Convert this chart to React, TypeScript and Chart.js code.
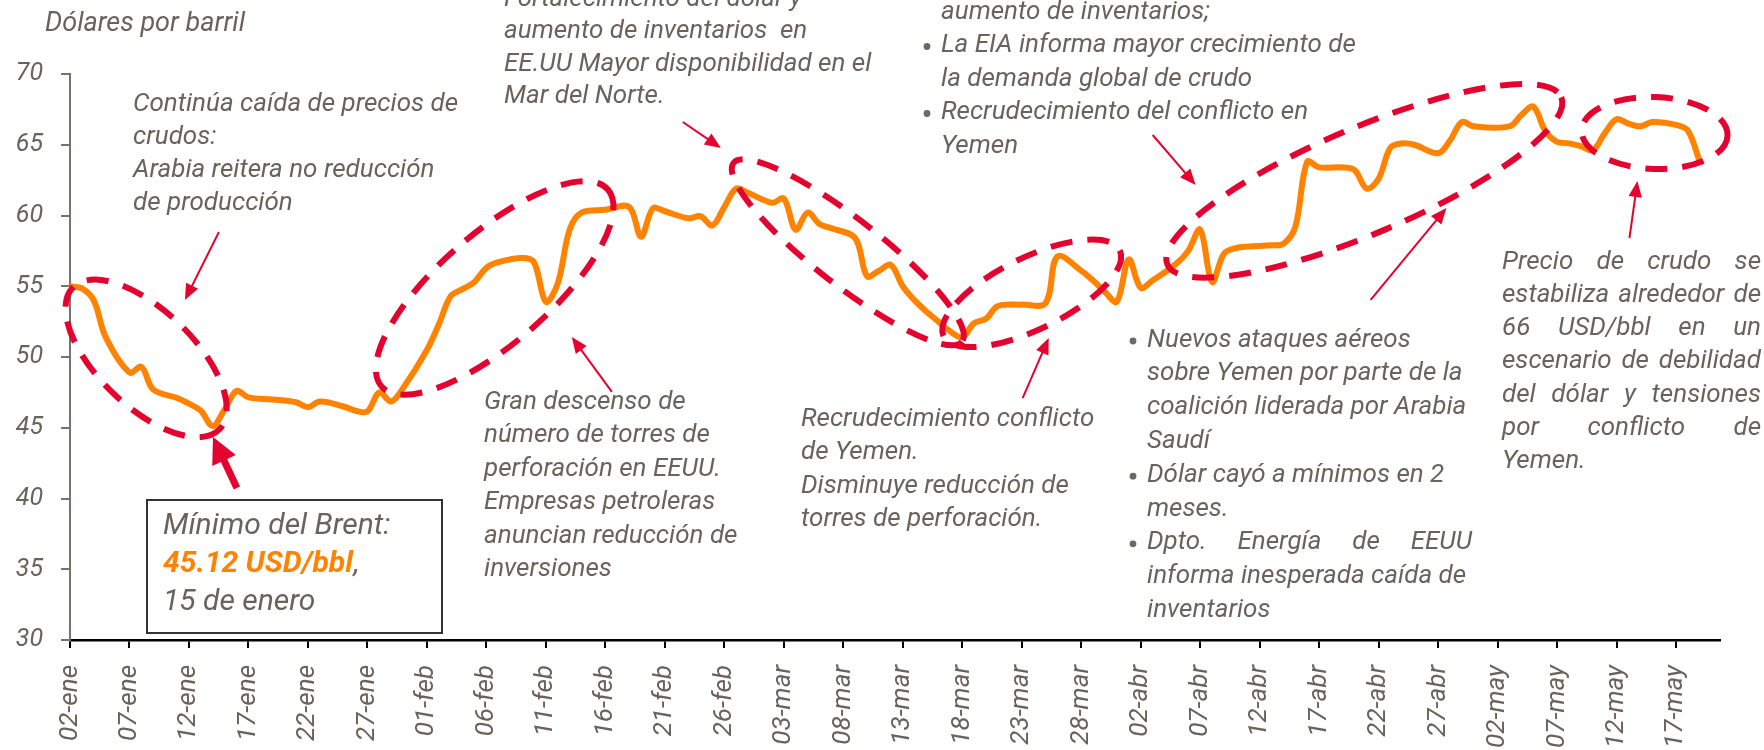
import React, { useEffect, useRef } from "react";
import { Chart, registerables } from "chart.js";

Chart.register(...registerables);

// ---- data (day offset from 02-ene-2015, Brent USD/bbl) ----
const days = [
  0, 1, 2, 3, 5, 6, 7, 9, 10, 11, 12, 13, 14, 15, 17, 19, 20, 21, 23, 24, 25, 26, 27, 28,
  30, 31, 32, 33, 34, 35, 36, 38, 39, 40, 41, 42, 43, 45, 47, 48, 49, 50, 52, 53, 54, 55, 56, 57,
  59, 60, 61, 62, 63, 64, 66, 67, 68, 69, 70, 71, 72, 73, 74, 75, 76, 77, 78, 80, 82, 83, 85, 86,
  87, 88, 89, 90, 91, 93, 94, 95, 96, 97, 98, 99, 101, 102, 103, 104, 105, 107, 108, 109, 110,
  111, 112, 113, 115, 116, 117, 118, 121, 122, 123, 124, 125, 126, 127, 128, 129, 130, 131, 132,
  133, 135, 136, 137,
];
const prices = [
  55.0, 54.85, 54.0, 51.4, 48.9, 49.3, 47.7, 47.1, 46.7, 46.2, 45.12, 46.3, 47.6, 47.15, 47.0, 46.8, 46.45, 46.85, 46.5, 46.2, 46.15, 47.5, 46.85, 47.8,
  50.5, 52.3, 54.3, 54.8, 55.3, 56.3, 56.7, 57.0, 56.7, 53.9, 55.2, 59.0, 60.2, 60.4, 60.6, 58.5, 60.5, 60.3, 59.8, 59.95, 59.3, 60.6, 61.9, 61.6,
  60.9, 61.2, 59.0, 60.2, 59.4, 59.1, 58.4, 55.7, 56.1, 56.5, 55.0, 54.0, 53.2, 52.5, 51.8, 51.4, 52.4, 52.7, 53.6, 53.7, 53.8, 57.1, 56.1, 55.4,
  54.6, 53.9, 56.9, 54.9, 55.4, 56.6, 57.5, 59.0, 55.3, 57.3, 57.7, 57.8, 57.9, 58.0, 59.2, 63.8, 63.4, 63.4, 63.2, 61.9, 62.6,
  64.8, 65.1, 65.0, 64.4, 65.3, 66.6, 66.3, 66.3, 67.1, 67.7, 66.0, 65.2, 65.1, 64.9, 64.6, 65.8, 66.8, 66.5, 66.3,
  66.6, 66.4, 66.0, 63.8,
];
const tickDays = [0, 5, 10, 15, 20, 25, 30, 35, 40, 45, 50, 55, 60, 65, 70, 75, 80, 85, 90, 95, 100, 105, 110, 115, 120, 125, 130, 135];
const tickLabels = [
  "02-ene", "07-ene", "12-ene", "17-ene", "22-ene", "27-ene", "01-feb", "06-feb", "11-feb", "16-feb",
  "21-feb", "26-feb", "03-mar", "08-mar", "13-mar", "18-mar", "23-mar", "28-mar", "02-abr", "07-abr",
  "12-abr", "17-abr", "22-abr", "27-abr", "02-may", "07-may", "12-may", "17-may",
];
const yTicks = [30, 35, 40, 45, 50, 55, 60, 65, 70];
const yLabel = "Dólares por barril";

// ---- annotations (ellipses / arrows anchored in data units) ----
const ellipses = [
  { day: 6.4, value: 49.9, rx: 102, ry: 48, rot: 44 },
  { day: 35.7, value: 54.88, rx: 150, ry: 55, rot: -41 },
  { day: 65.38, value: 57.4, rx: 145, ry: 33, rot: 38 },
  { day: 80.84, value: 54.5, rx: 98, ry: 36, rot: -26 },
  { day: 108.8, value: 62.45, rx: 214, ry: 53, rot: -23 },
  { day: 133.2, value: 65.83, rx: 73, ry: 36, rot: 2 },
];
const arrows = [
  { from: [12.52, 58.83], to: [9.66, 54.03], w: 2, head: 16 },
  { from: [51.51, 66.61], to: [54.71, 64.77], w: 2, head: 16 },
  { from: [45.55, 47.53], to: [42.18, 51.41], w: 2, head: 16 },
  { from: [80.08, 47.1], to: [82.27, 51.34], w: 2, head: 16 },
  { from: [91.01, 65.69], to: [94.62, 62.16], w: 2, head: 16 },
  { from: [109.33, 54.03], to: [115.7, 60.53], w: 2, head: 16 },
  { from: [131.09, 58.41], to: [131.76, 62.44], w: 2, head: 16 },
  { from: [14.03, 40.74], to: [12.02, 44.35], w: 7, head: 26 },
];

type Block = { x: number; y: number; lh: number; size?: number; lines: string[]; bullets?: number[]; justify?: { [k: number]: number } };
const notes: Block[] = [
  { x: 45, y: 24, lh: 33, size: 27, lines: [yLabel] },
  { x: 133, y: 104, lh: 33, lines: ["Continúa caída de precios de", "crudos:", "Arabia reitera no reducción", "de producción"] },
  { x: 504, y: -1, lh: 32.5, lines: ["Fortalecimiento del dólar y", "aumento de inventarios  en", "EE.UU Mayor disponibilidad en el", "Mar del Norte."] },
  {
    x: 941, y: 12, lh: 33.5,
    lines: ["aumento de inventarios;", "La EIA informa mayor crecimiento de", "la demanda global de crudo", "Recrudecimiento del conflicto en", "Yemen"],
    bullets: [1, 3],
  },
  { x: 484, y: 402, lh: 33.5, lines: ["Gran descenso de", "número de torres de", "perforación en EEUU.", "Empresas petroleras", "anuncian reducción de", "inversiones"] },
  { x: 801, y: 419, lh: 33.5, lines: ["Recrudecimiento conflicto", "de Yemen.", "Disminuye reducción de", "torres de perforación."] },
  {
    x: 1147, y: 340, lh: 33.8,
    lines: ["Nuevos ataques aéreos", "sobre Yemen por parte de la", "coalición liderada por Arabia", "Saudí", "Dólar cayó a mínimos en 2", "meses.", "Dpto. Energía de EEUU", "informa inesperada caída de", "inventarios"],
    bullets: [0, 4, 6],
    justify: { 6: 325 },
  },
  {
    x: 1502, y: 262, lh: 33.3,
    lines: ["Precio de crudo se", "estabiliza alrededor de", "66 USD/bbl en un", "escenario de debilidad", "del dólar y tensiones", "por conflicto de", "Yemen."],
    justify: { 0: 259, 1: 259, 2: 259, 3: 259, 4: 259, 5: 259 },
  },
];
const minBox = { x: 147, y: 500, w: 295, h: 133, title: "Mínimo del Brent:", value: "45.12 USD/bbl", date: "15 de enero" };

const FONT = 'Roboto, "Open Sans", "DejaVu Sans", sans-serif';
const TEXT = "#6b625b";
const RED = "#e4032e";
const ORANGE = "#ff8200";

const annotationPlugin = {
  id: "notes",
  afterDraw(chart: any) {
    const ctx: CanvasRenderingContext2D = chart.ctx;
    const xs = chart.scales.x;
    const ys = chart.scales.y;
    const px = (d: number) => xs.getPixelForValue(d);
    const py = (v: number) => ys.getPixelForValue(v);
    ctx.save();
    // ellipses
    ctx.strokeStyle = RED;
    ctx.lineWidth = 6;
    ctx.setLineDash([22, 15]);
    ctx.lineCap = "butt";
    for (const e of ellipses) {
      ctx.beginPath();
      ctx.ellipse(px(e.day), py(e.value), e.rx, e.ry, (e.rot * Math.PI) / 180, 0, Math.PI * 2);
      ctx.stroke();
    }
    ctx.setLineDash([]);
    // arrows
    ctx.fillStyle = RED;
    for (const a of arrows) {
      const x1 = px(a.from[0]), y1 = py(a.from[1]);
      const x2 = px(a.to[0]), y2 = py(a.to[1]);
      const ang = Math.atan2(y2 - y1, x2 - x1);
      const hl = a.head;
      const hw = a.w > 3 ? a.head * 0.5 : a.head * 0.42;
      const bx = x2 - Math.cos(ang) * hl, by = y2 - Math.sin(ang) * hl;
      ctx.lineWidth = a.w;
      ctx.beginPath();
      ctx.moveTo(x1, y1);
      ctx.lineTo(bx + Math.cos(ang) * 2, by + Math.sin(ang) * 2);
      ctx.stroke();
      ctx.beginPath();
      ctx.moveTo(x2, y2);
      ctx.lineTo(bx + Math.sin(ang) * hw, by - Math.cos(ang) * hw);
      ctx.lineTo(bx - Math.sin(ang) * hw, by + Math.cos(ang) * hw);
      ctx.closePath();
      ctx.fill();
    }
    // text notes
    ctx.textBaseline = "middle";
    ctx.textAlign = "left";
    for (const b of notes) {
      ctx.font = `italic ${b.size || 26}px ${FONT}`;
      b.lines.forEach((line, i) => {
        const y = b.y + i * b.lh;
        if (b.bullets && b.bullets.includes(i)) {
          ctx.fillStyle = "#6f6760";
          ctx.beginPath();
          ctx.arc(b.x - 14, y + 1, 3.4, 0, Math.PI * 2);
          ctx.fill();
        }
        ctx.fillStyle = TEXT;
        const jw = b.justify ? b.justify[i] : undefined;
        if (jw) {
          const words = line.split(/\s+/);
          const ww = words.map((w) => ctx.measureText(w).width);
          const total = ww.reduce((s, w) => s + w, 0);
          const gap = words.length > 1 ? (jw - total) / (words.length - 1) : 0;
          let cx = b.x;
          words.forEach((w, k) => {
            ctx.fillText(w, cx, y);
            cx += ww[k] + gap;
          });
        } else {
          ctx.fillText(line, b.x, y);
        }
      });
    }
    // minimum box
    ctx.strokeStyle = "#333333";
    ctx.lineWidth = 2;
    ctx.strokeRect(minBox.x, minBox.y, minBox.w, minBox.h);
    ctx.font = `italic 30px ${FONT}`;
    ctx.fillStyle = TEXT;
    const tx = minBox.x + 16;
    ctx.fillText(minBox.title, tx, minBox.y + 26);
    ctx.font = `italic bold 30px ${FONT}`;
    ctx.fillStyle = ORANGE;
    ctx.fillText(minBox.value, tx, minBox.y + 64);
    const vw = ctx.measureText(minBox.value).width;
    ctx.font = `italic 30px ${FONT}`;
    ctx.fillStyle = TEXT;
    ctx.fillText(",", tx + vw + 1, minBox.y + 64);
    ctx.fillText(minBox.date, tx, minBox.y + 102);
    ctx.restore();
  },
};

export default function App() {
  const ref = useRef<HTMLCanvasElement | null>(null);
  useEffect(() => {
    const canvas = ref.current;
    if (!canvas) return;
    const chart = new Chart(canvas, {
      type: "line",
      data: {
        datasets: [
          {
            data: days.map((d, i) => ({ x: d, y: prices[i] })),
            borderColor: ORANGE,
            borderWidth: 6,
            pointRadius: 0,
            tension: 0.35,
            fill: false,
            borderCapStyle: "round",
            borderJoinStyle: "round",
          } as any,
        ],
      },
      options: {
        responsive: false,
        maintainAspectRatio: false,
        animation: false,
        layout: { padding: { top: 74, right: 44, left: 0, bottom: 0 } },
        plugins: { legend: { display: false }, tooltip: { enabled: false } },
        scales: {
          x: {
            type: "linear",
            min: 0,
            max: 138.7,
            afterBuildTicks: (s: any) => {
              s.ticks = tickDays.map((v) => ({ value: v }));
            },
            afterFit: (s: any) => {
              s.height = 110;
            },
            ticks: {
              autoSkip: false,
              maxRotation: 90,
              minRotation: 90,
              padding: 17,
              color: TEXT,
              font: { family: FONT, size: 26, style: "italic" },
              callback: (v: any) => {
                const i = tickDays.indexOf(Number(v));
                return i >= 0 ? tickLabels[i] : "";
              },
            },
            grid: { drawOnChartArea: false, drawTicks: true, tickLength: 8, color: "#000000", lineWidth: 2 },
            border: { color: "#000000", width: 2.5 },
          },
          y: {
            type: "linear",
            min: 30,
            max: 70,
            afterBuildTicks: (s: any) => {
              s.ticks = yTicks.map((v) => ({ value: v }));
            },
            afterFit: (s: any) => {
              s.width = 70;
            },
            ticks: {
              padding: 18,
              color: TEXT,
              font: { family: FONT, size: 25, style: "italic" },
            },
            grid: { drawOnChartArea: false, drawTicks: true, tickLength: 9, color: "#7a716a", lineWidth: 2 },
            border: { color: "#7a716a", width: 2 },
          },
        },
      } as any,
      plugins: [annotationPlugin],
    });
    let alive = true;
    if ((document as any).fonts && (document as any).fonts.load) {
      Promise.all([
        (document as any).fonts.load(`italic 26px Roboto`),
        (document as any).fonts.load(`italic bold 30px Roboto`),
      ]).then(() => {
        if (alive) chart.update();
      }).catch(() => {});
    }
    return () => {
      alive = false;
      chart.destroy();
    };
  }, []);
  return (
    <div style={{ position: "absolute", left: 0, top: 0, width: 1764, height: 750, background: "#ffffff" }}>
      <canvas ref={ref} width={1764} height={750} style={{ display: "block", width: 1764, height: 750 }} />
    </div>
  );
}
